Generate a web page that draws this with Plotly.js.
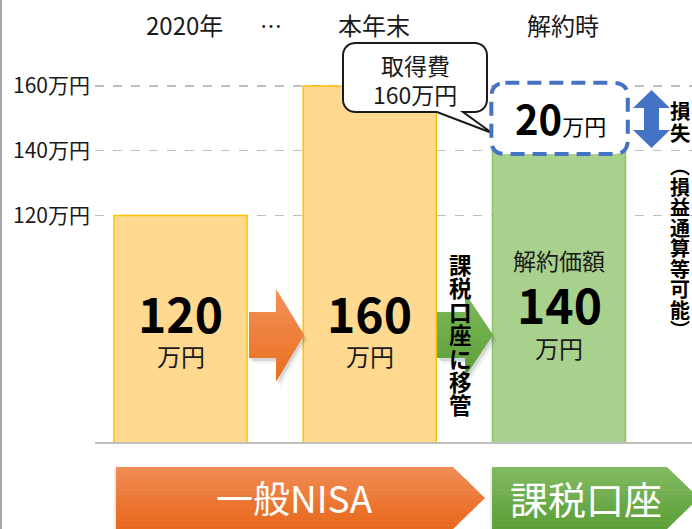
<!DOCTYPE html>
<html>
<head>
<meta charset="utf-8">
<script src="https://cdn.plot.ly/plotly-3.0.1.min.js"></script>
<style>html,body{margin:0;padding:0;background:#fff;}#chart{width:692px;height:529px;}</style>
</head>
<body>
<div id="chart"></div>
<script>
// ---- data ----
const categories = ['2020年', '本年末', '解約時'];
const values = [120, 160, 140];
const unitLabel = '万円';
const tickVals = [120, 140, 160];
const tickText = ['120万円', '140万円', '160万円'];
const acquisitionCost = 160;
const costLabel = '取得費';
const saleLabel = '解約価額';
const moveLabel = '課税口座に移管';
const lossLabel = '損失';
const lossNote = '︵損益通算等可能︶';
const stageLabels = ['一般NISA', '課税口座'];
const ellipsis = '…';

// ---- geometry helpers ----
const W = 692, H = 529, ML = 95, MR = 0, MT = 0, MB = 87;
const PW = W - ML - MR, PH = H - MT - MB;
const XR = [-0.4518, 2.7028], YR = [50, 186.6];
const PX = x => (x - ML) / PW;
const PY = y => (MT + PH - y) / PH;
const FONT = '"Noto Sans CJK JP", "Noto Sans", sans-serif';
const barWidth = 0.703;

function pathPx(pts, close = true) {
  return pts.map((p, i) => (i ? 'L' : 'M') + PX(p[0]).toFixed(5) + ',' + PY(p[1]).toFixed(5)).join(' ') + (close ? ' Z' : '');
}
function hex2rgb(h) { h = h.replace('#', ''); return [0, 2, 4].map(i => parseInt(h.substr(i, 2), 16)); }
function mix(a, b, t) { const A = hex2rgb(a), B = hex2rgb(b); return 'rgb(' + A.map((v, i) => Math.round(v + (B[i] - v) * t)).join(',') + ')'; }
function clipHalf(poly, f) {
  const out = [], n = poly.length;
  for (let i = 0; i < n; i++) {
    const cur = poly[i], prev = poly[(i - 1 + n) % n];
    const fc = f(cur), fp = f(prev);
    const inter = () => { const t = fp / (fp - fc); return [prev[0] + t * (cur[0] - prev[0]), prev[1] + t * (cur[1] - prev[1])]; };
    if (fc >= 0) { if (fp < 0) out.push(inter()); out.push(cur); }
    else if (fp >= 0) out.push(inter());
  }
  return out;
}
function gradientPoly(poly, top, bottom, n) {
  const ys = poly.map(p => p[1]);
  const y0 = Math.min(...ys), y1 = Math.max(...ys);
  const shapes = [];
  for (let i = 0; i < n; i++) {
    const a = y0 + (y1 - y0) * i / n, b = y0 + (y1 - y0) * (i + 1) / n + (i < n - 1 ? 0.6 : 0);
    let p = clipHalf(poly, q => q[1] - a);
    p = clipHalf(p, q => b - q[1]);
    if (p.length < 3) continue;
    shapes.push({ type: 'path', xref: 'paper', yref: 'paper', path: pathPx(p), fillcolor: mix(top, bottom, (i + 0.5) / n), line: { width: 0 }, layer: 'above' });
  }
  return shapes;
}
function shadow(poly, dx, dy, alpha) {
  return { type: 'path', xref: 'paper', yref: 'paper', path: pathPx(poly.map(p => [p[0] + dx, p[1] + dy])), fillcolor: 'rgba(0,0,0,' + alpha + ')', line: { width: 0 }, layer: 'above' };
}

// ---- shapes ----
const shapes = [];
// left border
shapes.push({ type: 'line', xref: 'paper', yref: 'paper', x0: PX(1), x1: PX(1), y0: PY(0), y1: PY(H), line: { color: '#A6A6A6', width: 2 } });

// arrows between bars
const orangeArrow = [[249, 312], [276, 312], [276, 289], [304, 335], [276, 382], [276, 358], [249, 358]];
const greenArrow = [[437, 312], [465, 312], [465, 293], [493, 335], [465, 377], [465, 358], [437, 358]];
[orangeArrow, greenArrow].forEach(a => { shapes.push(shadow(a, 2, 3, 0.10)); shapes.push(shadow(a, 4, 5, 0.06)); });
shapes.push(...gradientPoly(orangeArrow, '#F2915A', '#EA6D1C', 14));
shapes.push(...gradientPoly(greenArrow, '#7DB95A', '#5EA039', 14));

// bottom chevrons
const chevOrange = [[116, 467], [453, 467], [485, 498], [453, 529], [116, 529]];
const chevGreen = [[492, 467], [667, 467], [699, 498], [667, 529], [492, 529]];
shapes.push(shadow(chevOrange, -2, 2, 0.08));
shapes.push(shadow(chevGreen, -2, 2, 0.08));
shapes.push(...gradientPoly(chevOrange, '#F08C56', '#E8671A', 16));
shapes.push(...gradientPoly(chevGreen, '#82BB62', '#5C9E37', 16));

// callout
const cx0 = 343, cx1 = 487, cy0 = 43, cy1 = 112, r = 12;
const callout = [];
function arc(pts, cx, cy, a0, a1) { for (let k = 0; k <= 6; k++) { const t = a0 + (a1 - a0) * k / 6; pts.push([cx + r * Math.cos(t), cy + r * Math.sin(t)]); } }
arc(callout, cx1 - r, cy0 + r, -Math.PI / 2, 0);
arc(callout, cx1 - r, cy1 - r, 0, Math.PI / 2);
callout.push([463, cy1], [492, 133], [437, cy1]);
arc(callout, cx0 + r, cy1 - r, Math.PI / 2, Math.PI);
arc(callout, cx0 + r, cy0 + r, Math.PI, 1.5 * Math.PI);
shapes.push({ type: 'path', xref: 'paper', yref: 'paper', path: pathPx(callout), fillcolor: '#FFFFFF', line: { color: '#1A1A1A', width: 2 }, layer: 'above' });

// dashed loss box (data coordinates: gap between cost and sale value)
(function () {
  const x0 = 2 - barWidth / 2 - 0.006, x1 = 2 + barWidth / 2 + 0.012;
  const y0 = values[2] - 1, y1 = acquisitionCost + 1;
  const rx = 14 * (XR[1] - XR[0]) / PW, ry = 14 * (YR[1] - YR[0]) / PH;
  const p = `M${x0 + rx},${y1} L${x1 - rx},${y1} Q${x1},${y1} ${x1},${y1 - ry} L${x1},${y0 + ry} Q${x1},${y0} ${x1 - rx},${y0} L${x0 + rx},${y0} Q${x0},${y0} ${x0},${y0 + ry} L${x0},${y1 - ry} Q${x0},${y1} ${x0 + rx},${y1} Z`;
  shapes.push({ type: 'path', xref: 'x', yref: 'y', path: p, fillcolor: '#FFFFFF', line: { color: '#4472C4', width: 4, dash: '14px,8px' }, layer: 'above' });
})();

// blue double arrow
const dbl = [[651.5, 90], [670, 108], [659, 108], [659, 130], [670, 130], [651.5, 148], [633, 130], [644, 130], [644, 108], [633, 108]];
shapes.push({ type: 'path', xref: 'paper', yref: 'paper', path: pathPx(dbl), fillcolor: '#4472C4', line: { width: 0 }, layer: 'above' });

// ---- annotations ----
const ann = [];
function txt(text, xpx, ypx, size, color) {
  ann.push({ text, x: PX(xpx), y: PY(ypx), xref: 'paper', yref: 'paper', showarrow: false, xanchor: 'center', yanchor: 'middle',
    font: { family: FONT, size, color: color || '#111111' } });
}
function txtData(text, xi, ypx, size, color) {
  ann.push({ text, x: xi, y: PY(ypx), xref: 'x', yref: 'paper', showarrow: false, xanchor: 'center', yanchor: 'middle',
    font: { family: FONT, size, color: color || '#111111' } });
}
// vertical text: one annotation, one character per line; base size sets line pitch, inner span sets glyph size
function vtext(str, xpx, ypx, pitch, glyph) {
  const body = Array.from(str).map(ch => '<span style="font-size:' + glyph + 'px"><b>' + ch + '</b></span>').join('<br>');
  txt(body, xpx, ypx, pitch / 1.3, '#000');
}
// top category labels
categories.forEach((c, i) => txtData(c, i + 0.02, 24, 24, '#1A1A1A'));
txtData(ellipsis, 0.48, 24, 22, '#1A1A1A');
// bar labels
txtData('<b>' + values[0] + '</b>', 0, 312, 48, '#000');
txtData(unitLabel, 0, 355, 24, '#1A1A1A');
txtData('<b>' + values[1] + '</b>', 1, 312, 48, '#000');
txtData(unitLabel, 1, 355, 24, '#1A1A1A');
txtData(saleLabel, 2, 260, 23, '#1A1A1A');
txtData('<b>' + values[2] + '</b>', 2, 303, 48, '#000');
txtData(unitLabel, 2, 347, 24, '#1A1A1A');
// callout text
txt(costLabel, 415, 65, 23, '#1A1A1A');
txt(acquisitionCost + unitLabel, 415, 94, 23, '#1A1A1A');
// loss amount
txt('<b>' + (acquisitionCost - values[2]) + '</b><span style="font-size:22px">' + unitLabel + '</span>', 560, 118, 40, '#000');
// vertical texts
vtext(moveLabel, 460.5, 334, 23.4, 22.5);
vtext(lossLabel, 680, 121, 22, 20.5);
vtext(lossNote, 680, 247.5, 20.5, 20);
// chevron labels
txt(stageLabels[0], 294, 497, 37, '#FFFFFF');
txt(stageLabels[1], 586, 497, 38, '#FFFFFF');

// ---- traces ----
const trace = {
  type: 'bar', x: [0, 1, 2], y: values, width: barWidth,
  marker: { color: ['#FFD98F', '#FFD98F', '#A9D18E'], line: { color: ['#FFC000', '#FFC000', '#8DC26A'], width: 1.5 } },
  hoverinfo: 'skip'
};

const layout = {
  width: W, height: H,
  margin: { l: ML, r: MR, t: MT, b: MB, pad: 0 },
  paper_bgcolor: '#FFFFFF', plot_bgcolor: '#FFFFFF',
  showlegend: false,
  font: { family: FONT },
  xaxis: { range: XR, showticklabels: false, showgrid: false, zeroline: false, showline: true, linecolor: '#BFBFBF', linewidth: 2, ticks: '', fixedrange: true },
  yaxis: { range: YR, tickvals: tickVals, ticktext: tickText, showgrid: true, gridcolor: '#BFBFBF', griddash: 'dash', gridwidth: 1.2,
    zeroline: false, showline: false, ticks: '', tickfont: { family: FONT, size: 21, color: '#1A1A1A' }, ticklabelstandoff: 4, fixedrange: true },
  shapes, annotations: ann
};

Plotly.newPlot('chart', [trace], layout, { displayModeBar: false, staticPlot: true });
</script>
</body>
</html>
